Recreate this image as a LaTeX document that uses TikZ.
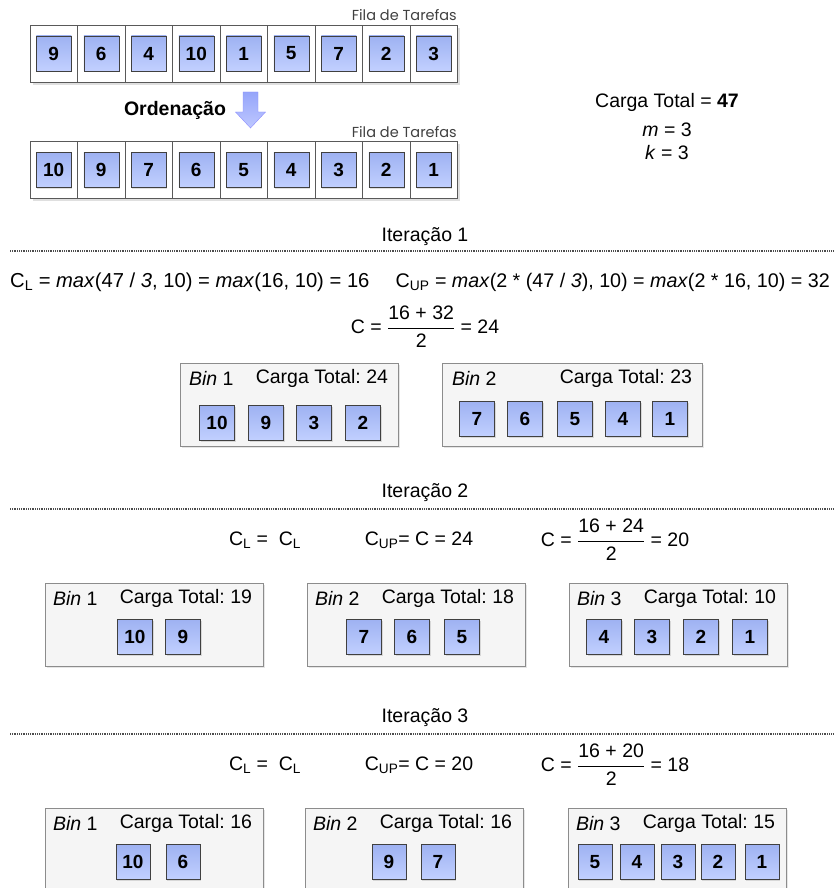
\documentclass[tikz,border=0pt]{standalone}
\usepackage{fontspec}
\setmainfont{Liberation Sans}
\newfontfamily\filafont{Poppins}
\usetikzlibrary{positioning,shadows}
\frenchspacing

\definecolor{tasktop}{RGB}{158,178,242}
\definecolor{taskbot}{RGB}{194,208,255}
\definecolor{binfill}{RGB}{245,245,245}
\definecolor{setatop}{RGB}{150,165,250}
\definecolor{setabot}{RGB}{190,200,255}

\begin{document}
\begin{tikzpicture}[x=1pt,y=-1pt,font=\fontsize{19.5}{22}\selectfont,
 task/.style={draw=black!75,top color=tasktop,bottom color=taskbot,minimum size=35,inner sep=0,
   font=\fontsize{19}{22}\selectfont\bfseries,drop shadow={opacity=0.25,shadow xshift=1pt,shadow yshift=-1pt}},
 cell/.style={draw=black!65,fill=white,minimum width=47.5,minimum height=57,inner sep=0},
 binbox/.style={draw=black!45,fill=binfill,minimum height=83,inner sep=0,
   drop shadow={opacity=0.2,shadow xshift=1.5pt,shadow yshift=-1.5pt}},
 sepline/.style={draw=black!70,line width=1.4pt,dash pattern=on 1pt off 0.8pt},
 fila/.style={inner sep=0,anchor=south east,font=\filafont\fontsize{14.5}{16}\selectfont,text=black!75},
 lbl/.style={inner sep=0}]
\useasboundingbox (0,0) rectangle (834,888);
\clip (0,0) rectangle (834,888);

% filas de tarefas
\node[fila] (fila1) at (457,21) {Fila de Tarefas};
\node[cell,minimum width=427.5,drop shadow={opacity=0.25}] (q1) at (243.75,53.5) {};
\foreach \v [count=\i] in {9,6,4,10,1,5,7,2,3}{
  \node[cell] (c1-\i) at (30+47.5*\i-23.75,53.5) {};
  \node[task] (t1-\i) at (c1-\i) {\v};
}
\node[lbl,font=\fontsize{19.5}{22}\selectfont\bfseries] (ord) at (175,110) {Ordenação};
\draw[blue!45,top color=setatop,bottom color=setabot]
  (243,92) -- (258,92) -- (258,112) -- (265.5,112) -- (250.5,128) -- (235.5,112) -- (243,112) -- cycle;
\node[fila] (fila2) at (457,138) {Fila de Tarefas};
\node[cell,minimum width=427.5,drop shadow={opacity=0.25}] (q2) at (243.75,170) {};
\foreach \v [count=\i] in {10,9,7,6,5,4,3,2,1}{
  \node[cell] (c2-\i) at (30+47.5*\i-23.75,170) {};
  \node[task] (t2-\i) at (c2-\i) {\v};
}

% dados
\node[lbl] (carga) at (667,102) {Carga Total = \textbf{47}};
\node[lbl] (m) at (667,130) {\textit{m} = 3};
\node[lbl] (k) at (667,153) {\textit{k} = 3};

% iteracao 1
\node[lbl] (it1) at (425,237) {Iteração 1};
\draw[sepline] (10,251) -- (834,251);
\node[lbl,anchor=west,font=\fontsize{20.2}{22}\selectfont] (cl1) at (10,282) {C\textsubscript{L} = \textit{max}(47 / \textit{3}, 10) = \textit{max}(16, 10) = 16};
\node[lbl,anchor=east,font=\fontsize{19.7}{22}\selectfont] (cup1) at (830,282) {C\textsubscript{UP} = \textit{max}(2 * (47 / \textit{3}), 10) = \textit{max}(2 * 16, 10) = 32};
\node[lbl] (cc1) at (425,327) {C = $\displaystyle\frac{\mbox{16 + 32}}{\mbox{2}}$ = 24};

\node[binbox,minimum width=218] (b11) at (289,405) {};
\node[lbl,anchor=west] (b11n) at ([shift={(9,15)}]b11.north west) {\textit{Bin} 1};
\node[lbl,anchor=east] (b11c) at ([shift={(-10,15)}]b11.north east) {Carga Total: 24};
\foreach \x/\v in {217/10,266/9,314/3,363/2}
  \node[task] (t11-\v) at (\x,423) {\v};
\node[binbox,minimum width=260] (b12) at (572,405) {};
\node[lbl,anchor=west] (b12n) at ([shift={(10,15)}]b12.north west) {\textit{Bin} 2};
\node[lbl,anchor=east] (b12c) at ([shift={(-10,15)}]b12.north east) {Carga Total: 23};
\foreach \x/\v in {477/7,525/6,575/5,623/4,670/1}
  \node[task] (t12-\v) at (\x,419) {\v};

% iteracao 2
\node[lbl] (it2) at (425,493) {Iteração 2};
\draw[sepline] (10,509) -- (834,509);
\node[lbl] (cl2) at (265,540) {C\textsubscript{L} = \ C\textsubscript{L}};
\node[lbl] (cup2) at (419,540) {C\textsubscript{UP}= C = 24};
\node[lbl] (cc2) at (615,540) {C = $\displaystyle\frac{\mbox{16 + 24}}{\mbox{2}}$ = 20};

\node[binbox,minimum width=218] (b21) at (154,625) {};
\node[lbl,anchor=west] (b21n) at ([shift={(8,15)}]b21.north west) {\textit{Bin} 1};
\node[lbl,anchor=east] (b21c) at ([shift={(-11,15)}]b21.north east) {Carga Total: 19};
\foreach \x/\v in {135/10,183/9}
  \node[task] (t21-\v) at (\x,637) {\v};
\node[binbox,minimum width=218] (b22) at (416,625) {};
\node[lbl,anchor=west] (b22n) at ([shift={(8,15)}]b22.north west) {\textit{Bin} 2};
\node[lbl,anchor=east] (b22c) at ([shift={(-11,15)}]b22.north east) {Carga Total: 18};
\foreach \x/\v in {364/7,412/6,462/5}
  \node[task] (t22-\v) at (\x,637) {\v};
\node[binbox,minimum width=218] (b23) at (678,625) {};
\node[lbl,anchor=west] (b23n) at ([shift={(8,15)}]b23.north west) {\textit{Bin} 3};
\node[lbl,anchor=east] (b23c) at ([shift={(-11,15)}]b23.north east) {Carga Total: 10};
\foreach \x/\v in {604/4,652/3,701/2,750/1}
  \node[task] (t23-\v) at (\x,637) {\v};

% iteracao 3
\node[lbl] (it3) at (425,718) {Iteração 3};
\draw[sepline] (10,734) -- (834,734);
\node[lbl] (cl3) at (265,765) {C\textsubscript{L} = \ C\textsubscript{L}};
\node[lbl] (cup3) at (419,765) {C\textsubscript{UP}= C = 20};
\node[lbl] (cc3) at (615,765) {C = $\displaystyle\frac{\mbox{16 + 20}}{\mbox{2}}$ = 18};

\node[binbox,minimum width=218,minimum height=100] (b31) at (154,858) {};
\node[lbl,anchor=west] (b31n) at ([shift={(8,16)}]b31.north west) {\textit{Bin} 1};
\node[lbl,anchor=east] (b31c) at ([shift={(-11,16)}]b31.north east) {Carga Total: 16};
\foreach \x/\v in {133/10,183/6}
  \node[task,minimum width=34] (t31-\v) at (\x,862) {\v};
\node[binbox,minimum width=218,minimum height=100] (b32) at (414,858) {};
\node[lbl,anchor=west] (b32n) at ([shift={(8,16)}]b32.north west) {\textit{Bin} 2};
\node[lbl,anchor=east] (b32c) at ([shift={(-11,16)}]b32.north east) {Carga Total: 16};
\foreach \x/\v in {389/9,438/7}
  \node[task,minimum width=34] (t32-\v) at (\x,862) {\v};
\node[binbox,minimum width=218,minimum height=100] (b33) at (677,858) {};
\node[lbl,anchor=west] (b33n) at ([shift={(8,16)}]b33.north west) {\textit{Bin} 3};
\node[lbl,anchor=east] (b33c) at ([shift={(-11,16)}]b33.north east) {Carga Total: 15};
\foreach \x/\v in {595/5,637/4,678/3,718/2,762/1}
  \node[task,minimum width=34] (t33-\v) at (\x,862) {\v};
\end{tikzpicture}
\end{document}
